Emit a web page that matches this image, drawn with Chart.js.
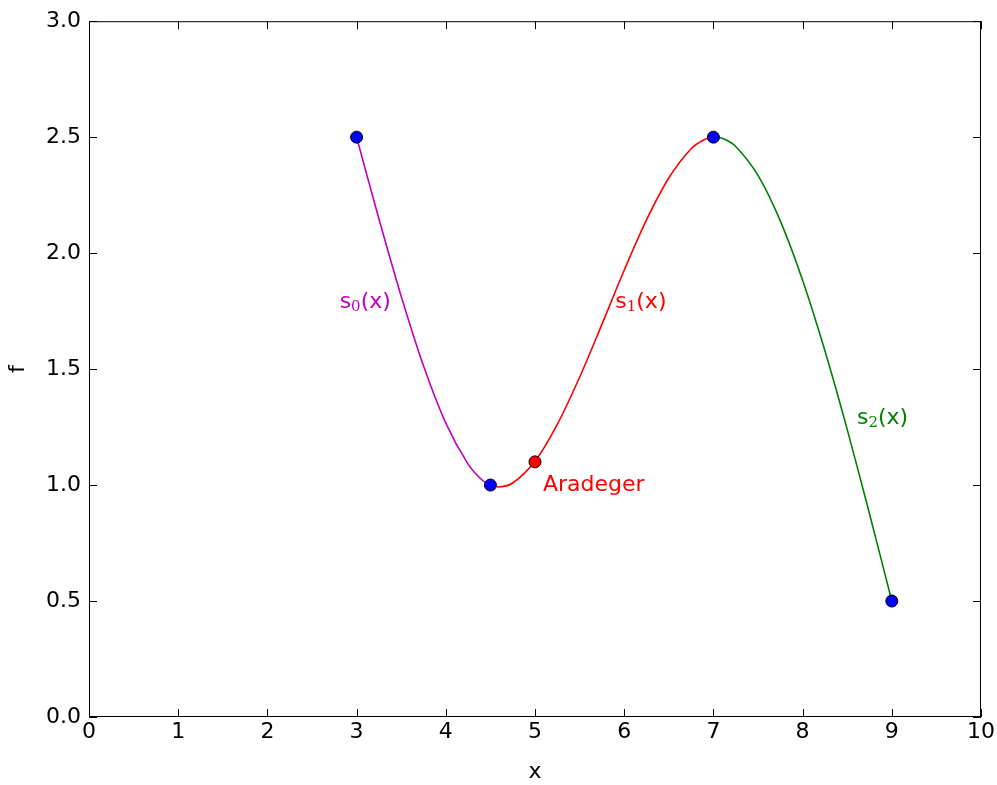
<!DOCTYPE html>
<html>
<head>
<meta charset="utf-8">
<script src="https://cdn.jsdelivr.net/npm/chart.js@4.4.1/dist/chart.umd.min.js"></script>
<style>
  html, body { margin: 0; padding: 0; background: #fff; }
  #wrap { width: 997px; height: 785px; }
</style>
</head>
<body>
<div id="wrap"><canvas id="chart"></canvas></div>
<script>
// knots of the spline
var knotX = [3, 4.5, 7, 9];
var knotY = [2.5, 1.0, 2.5, 0.5];

// interpolated value
var pointX = [5];
var pointY = [1.10];

// curve pieces
var s0X = [3.0, 3.25, 3.5, 3.75, 4.0, 4.25, 4.4, 4.5];
var s0Y = [2.500, 2.148, 1.814, 1.514, 1.267, 1.090, 1.024, 1.000];
var s1X = [4.5, 4.6, 4.75, 5.0, 5.25, 5.5, 5.75, 6.0, 6.25, 6.5, 6.75, 6.9, 7.0];
var s1Y = [1.000, 0.992, 1.009, 1.103, 1.262, 1.465, 1.693, 1.926, 2.143, 2.324, 2.450, 2.490, 2.500];
var s2X = [7.0, 7.1, 7.25, 7.5, 7.75, 8.0, 8.25, 8.5, 8.75, 9.0];
var s2Y = [2.500, 2.495, 2.460, 2.335, 2.139, 1.883, 1.579, 1.240, 0.876, 0.500];

var xTicks = [0, 1, 2, 3, 4, 5, 6, 7, 8, 9, 10];
var yTicks = [0, 0.5, 1.0, 1.5, 2.0, 2.5, 3.0];

// text labels in the plot: [main, subscript, rest, x, y, colour]
var notes = [
  ['s', '0', '(x)', 2.81, 1.79, '#bf00bf'],
  ['s', '1', '(x)', 5.90, 1.79, '#ff0000'],
  ['s', '2', '(x)', 8.61, 1.29, '#008000'],
  ['Aradeger', '', '', 5.09, 1.00, '#ff0000']
];

function pts(xs, ys) {
  return xs.map(function (x, i) { return { x: x, y: ys[i] }; });
}

var FONT = '"DejaVu Sans", sans-serif';

var framePlugin = {
  id: 'frame',
  afterDraw: function (chart) {
    var ctx = chart.ctx, a = chart.chartArea;
    var xs = chart.scales.x, ys = chart.scales.y;
    ctx.save();
    ctx.strokeStyle = '#000';
    ctx.lineWidth = 1;
    ctx.strokeRect(a.left + 0.5, a.top + 0.5, a.right - a.left - 1, a.bottom - a.top - 1);
    // inward ticks on all four sides
    xTicks.forEach(function (v) {
      var px = Math.round(xs.getPixelForValue(v)) + 0.5;
      ctx.beginPath();
      ctx.moveTo(px, a.bottom); ctx.lineTo(px, a.bottom - 8);
      ctx.moveTo(px, a.top); ctx.lineTo(px, a.top + 8);
      ctx.stroke();
    });
    yTicks.forEach(function (v) {
      var py = Math.round(ys.getPixelForValue(v)) + 0.5;
      ctx.beginPath();
      ctx.moveTo(a.left, py); ctx.lineTo(a.left + 8, py);
      ctx.moveTo(a.right, py); ctx.lineTo(a.right - 8, py);
      ctx.stroke();
    });
    ctx.restore();
  },
  afterDatasetsDraw: function (chart) {
    var ctx = chart.ctx;
    var xs = chart.scales.x, ys = chart.scales.y;
    ctx.save();
    ctx.textBaseline = 'middle';
    ctx.textAlign = 'left';
    notes.forEach(function (n) {
      var px = xs.getPixelForValue(n[3]);
      var py = ys.getPixelForValue(n[4]);
      ctx.fillStyle = n[5];
      ctx.font = '22px ' + FONT;
      ctx.fillText(n[0], px, py);
      px += ctx.measureText(n[0]).width;
      if (n[1]) {
        ctx.font = '15px "DejaVu Serif", serif';
        ctx.fillText(n[1], px, py + 5);
        px += ctx.measureText(n[1]).width;
        ctx.font = '22px ' + FONT;
        ctx.fillText(n[2], px, py);
      }
    });
    ctx.restore();
  }
};

new Chart(document.getElementById('chart'), {
  type: 'scatter',
  data: {
    datasets: [
      {
        label: 'knots',
        data: pts(knotX, knotY),
        showLine: false,
        pointRadius: 6,
        pointBackgroundColor: '#0000ff',
        pointBorderColor: '#000',
        pointBorderWidth: 1
      },
      {
        label: 'value',
        data: pts(pointX, pointY),
        showLine: false,
        pointRadius: 6,
        pointBackgroundColor: '#ff0000',
        pointBorderColor: '#000',
        pointBorderWidth: 1
      },
      {
        label: 's0',
        data: pts(s0X, s0Y),
        showLine: true,
        borderColor: '#bf00bf',
        borderWidth: 1.6,
        pointRadius: 0,
        tension: 0.3
      },
      {
        label: 's1',
        data: pts(s1X, s1Y),
        showLine: true,
        borderColor: '#ff0000',
        borderWidth: 1.6,
        pointRadius: 0,
        tension: 0.3
      },
      {
        label: 's2',
        data: pts(s2X, s2Y),
        showLine: true,
        borderColor: '#008000',
        borderWidth: 1.6,
        pointRadius: 0,
        tension: 0.3
      }
    ]
  },
  options: {
    responsive: true,
    maintainAspectRatio: false,
    animation: false,
    layout: { padding: { top: 18, right: 16, left: 0, bottom: 0 } },
    plugins: {
      legend: { display: false },
      tooltip: { enabled: false }
    },
    scales: {
      x: {
        type: 'linear',
        min: 0,
        max: 10,
        afterBuildTicks: function (s) { s.ticks = xTicks.map(function (v) { return { value: v }; }); },
        afterFit: function (s) { s.height = 68; },
        grid: { display: false, drawTicks: false },
        border: { display: false },
        ticks: {
          color: '#000',
          padding: 2,
          font: { family: FONT, size: 22 },
          callback: function (v) { return String(v); }
        },
        title: {
          display: true,
          text: 'x',
          color: '#000',
          padding: { top: 4, bottom: 0 },
          font: { family: FONT, size: 22 }
        }
      },
      y: {
        type: 'linear',
        min: 0,
        max: 3,
        afterBuildTicks: function (s) { s.ticks = yTicks.map(function (v) { return { value: v }; }); },
        afterFit: function (s) { s.width = 89; },
        grid: { display: false, drawTicks: false },
        border: { display: false },
        ticks: {
          color: '#000',
          padding: 8,
          font: { family: FONT, size: 22 },
          callback: function (v) { return Number(v).toFixed(1); }
        },
        title: {
          display: true,
          text: 'f',
          color: '#000',
          padding: { top: 5, bottom: 0 },
          font: { family: FONT, size: 22 }
        }
      }
    }
  },
  plugins: [framePlugin]
});
</script>
</body>
</html>
